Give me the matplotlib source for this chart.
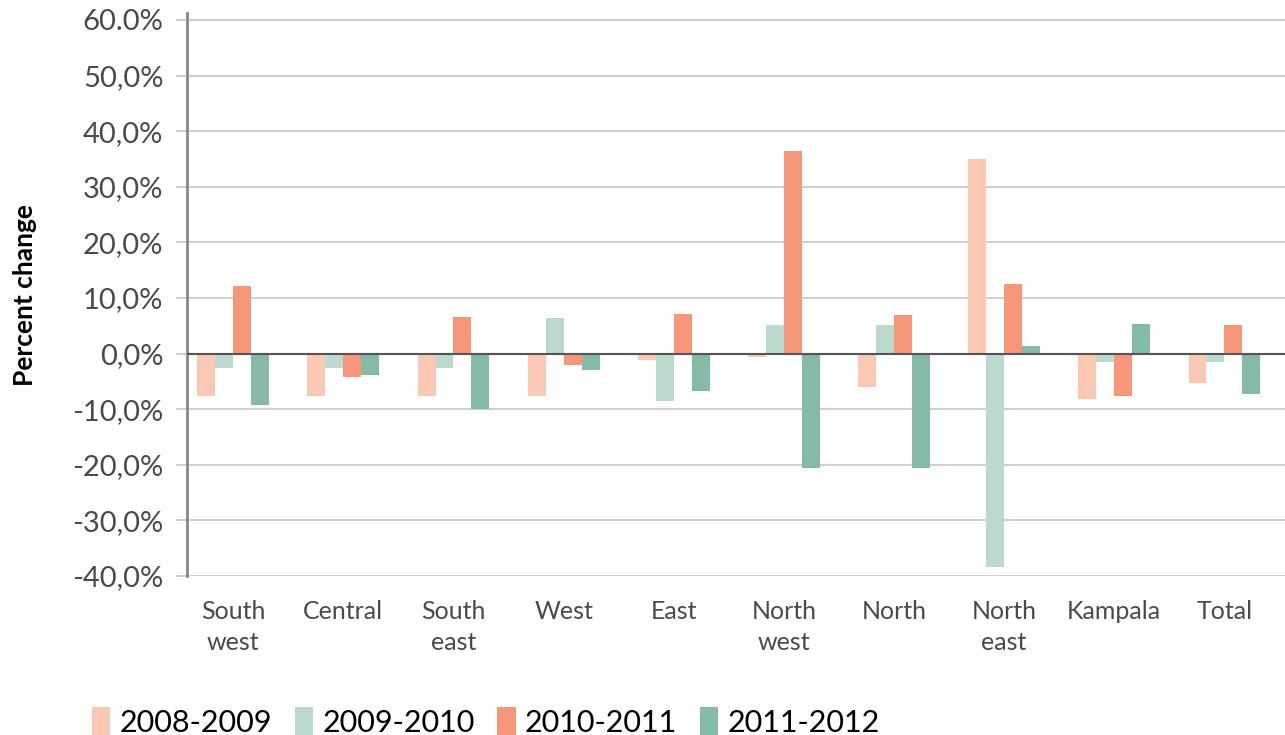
import matplotlib
matplotlib.use("Agg")
import matplotlib.pyplot as plt
import numpy as np
from matplotlib.patches import Patch

categories = ["South\nwest", "Central", "South\neast", "West", "East",
              "North\nwest", "North", "North\neast", "Kampala", "Total"]
series_names = ["2008-2009", "2009-2010", "2010-2011", "2011-2012"]
v2008_2009 = [-7.6, -7.6, -7.6, -7.6, -1.2, -0.6, -6.0, 35.0, -8.2, -5.2]
v2009_2010 = [-2.6, -2.6, -2.6, 6.4, -8.6, 5.1, 5.1, -38.3, -1.6, -1.6]
v2010_2011 = [12.2, -4.2, 6.6, -2.1, 7.2, 36.5, 6.9, 12.5, -7.6, 5.1]
v2011_2012 = [-9.3, -3.9, -10.0, -3.0, -6.7, -20.5, -20.6, 1.3, 5.3, -7.3]
yticks = [-40, -30, -20, -10, 0, 10, 20, 30, 40, 50, 60]
ytick_labels = ["-40,0%", "-30,0%", "-20,0%", "-10,0%", "0,0%", "10,0%",
                "20,0%", "30,0%", "40,0%", "50,0%", "60.0%"]

colors = ["#FBC8B4", "#BCD9CD", "#F7977A", "#84BAA6"]
series = [v2008_2009, v2009_2010, v2010_2011, v2011_2012]

fig = plt.figure(figsize=(12.85, 7.35), dpi=100)
ax = fig.add_axes([0.1455, 0.2163, 0.8545, 0.7656])

x = np.arange(len(categories))
w = 0.163
for i, (vals, c) in enumerate(zip(series, colors)):
    ax.bar(x + (i - 1.5) * w, vals, width=w, color=c, zorder=3, linewidth=0)

ax.set_ylim(-40, 61.2)
ax.set_xlim(-0.42, 9.55)
ax.set_yticks(yticks)
ax.set_yticklabels(ytick_labels)
ax.yaxis.grid(True, color="#d0d0d0", linewidth=1.5, zorder=0)
ax.set_axisbelow(True)
ax.axhline(0, color="#555555", linewidth=1.5, zorder=5)

for s in ["top", "right", "bottom"]:
    ax.spines[s].set_visible(False)
ax.spines["left"].set_color("#888888")
ax.spines["left"].set_linewidth(2)

ax.tick_params(axis="y", length=8, width=1.5, color="#d0d0d0", pad=9,
               labelsize=21, labelcolor="#4a4a4a")
ax.tick_params(axis="x", length=0, pad=17, labelsize=18, labelcolor="#4a4a4a")
ax.set_xticks(x)
ax.set_xticklabels(categories, linespacing=1.45)
for lab in ax.get_yticklabels() + ax.get_xticklabels():
    lab.set_fontfamily(["Lato", "DejaVu Sans"])
    lab.set_fontweight("normal")

ax.set_ylabel("Percent change", fontsize=19, fontweight="bold",
              family=["Lato", "DejaVu Sans"], color="black")
ax.yaxis.set_label_coords(-0.137, 0.5)

handles = [Patch(facecolor=c, edgecolor="none") for c in colors]
leg = fig.legend(handles, series_names, loc="lower left",
                 bbox_to_anchor=(0.05, -0.04), ncol=4, frameon=False,
                 handlelength=0.6, handleheight=1.1, handletextpad=0.3,
                 columnspacing=0.75,
                 prop=dict(family=["Lato", "DejaVu Sans"], size=22))

fig.savefig("out.png", dpi=100)
